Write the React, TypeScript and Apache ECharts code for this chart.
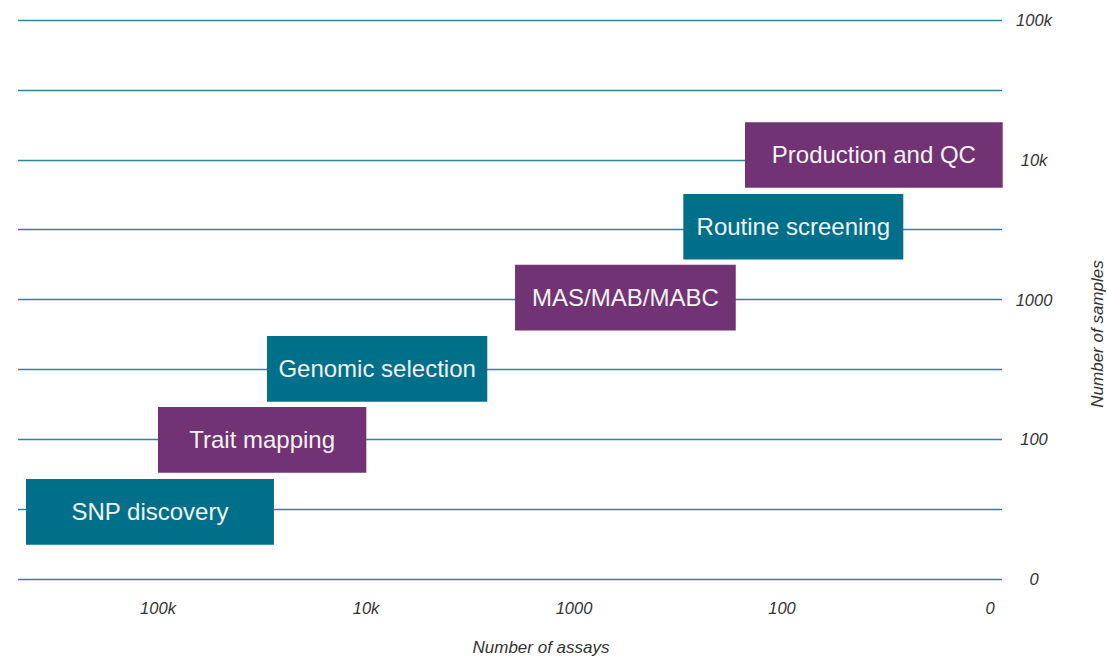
import React, { useEffect, useRef } from "react";
import * as echarts from "echarts";

// Stage names and their extents (x in half-decade units of assays, 0 at right; y in half-decade units of samples)
const stages = ["SNP discovery", "Trait mapping", "Genomic selection", "MAS/MAB/MABC", "Routine screening", "Production and QC"];
const assayFrom = [9.269, 8.0, 6.952, 4.567, 2.949, 2.356];
const assayTo = [6.885, 5.997, 4.834, 2.445, 0.834, -0.122];
const sampleLevel = [0.961, 1.991, 3.006, 4.027, 5.041, 6.068];
const boxHeight = 0.94;
const stageColorIdx = [0, 1, 0, 1, 0, 1];

const xTickValues = [0, 2, 4, 6, 8];
const xTickLabels = ["0", "100", "1000", "10k", "100k"];
const yTickValues = [0, 2, 4, 6, 8];
const yTickLabels = ["0", "100", "1000", "10k", "100k"];

const TEAL = "#00708a";
const PURPLE = "#713373";
const GRID = "#2f8597";
const FONT = "'Liberation Sans', Arial, sans-serif";

export default function App() {
  const ref = useRef<HTMLDivElement>(null);
  useEffect(() => {
    if (!ref.current) return;
    const chart = echarts.init(ref.current, undefined, { renderer: "svg" });
    const data = stages.map((s, i) => [assayFrom[i], assayTo[i], sampleLevel[i], stageColorIdx[i], s]);
    chart.setOption({
      animation: false,
      grid: { left: 18, right: 105, top: 20, bottom: 78, containLabel: false },
      xAxis: {
        type: "value",
        inverse: true,
        min: -0.115,
        max: 9.346,
        axisLine: { show: false },
        axisTick: { show: false },
        splitLine: { show: false },
        axisLabel: {
          customValues: xTickValues,
          formatter: (v: number) => {
            const i = xTickValues.indexOf(Math.round(v));
            return i >= 0 ? xTickLabels[i] : "";
          },
          color: "#333",
          fontStyle: "italic",
          fontSize: 16.5,
          fontFamily: FONT,
          margin: 20,
        },
      },
      yAxis: {
        type: "value",
        position: "right",
        min: 0,
        max: 8,
        interval: 1,
        axisLine: { show: false },
        axisTick: { show: false },
        splitLine: { show: true, lineStyle: { color: GRID, width: 1.3 } },
        axisLabel: {
          formatter: (v: number) => {
            const i = yTickValues.indexOf(Math.round(v));
            return i >= 0 ? yTickLabels[i] : "";
          },
          color: "#333",
          fontStyle: "italic",
          fontSize: 16.5,
          fontFamily: FONT,
          align: "center",
          margin: 32,
        },
      },
      graphic: [
        {
          type: "text",
          x: 541,
          y: 647,
          style: {
            text: "Number of assays",
            fill: "#333",
            font: `italic 17px ${FONT}`,
            align: "center",
            verticalAlign: "middle",
          },
        },
        {
          type: "text",
          x: 1097,
          y: 334,
          rotation: Math.PI / 2,
          style: {
            text: "Number of samples",
            fill: "#333",
            font: `italic 17px ${FONT}`,
            align: "center",
            verticalAlign: "middle",
          },
        },
      ],
      series: [
        {
          type: "custom",
          data,
          encode: { x: [0, 1], y: 2 },
          renderItem: (params: any, api: any) => {
            const x0 = api.value(0);
            const x1 = api.value(1);
            const yc = api.value(2);
            const ci = api.value(3);
            const label = stages[params.dataIndex];
            const p0 = api.coord([x0, yc + boxHeight / 2]);
            const p1 = api.coord([x1, yc - boxHeight / 2]);
            const left = Math.min(p0[0], p1[0]);
            const top = Math.min(p0[1], p1[1]);
            const w = Math.abs(p1[0] - p0[0]);
            const h = Math.abs(p1[1] - p0[1]);
            return {
              type: "group",
              children: [
                {
                  type: "rect",
                  shape: { x: left, y: top, width: w, height: h },
                  style: { fill: ci === 0 ? TEAL : PURPLE },
                },
                {
                  type: "text",
                  style: {
                    text: label,
                    x: left + w / 2,
                    y: top + h / 2,
                    align: "center",
                    verticalAlign: "middle",
                    fill: "#f2f2f2",
                    font: `24px ${FONT}`,
                  },
                },
              ],
            };
          },
        },
      ],
    });
    return () => chart.dispose();
  }, []);
  return <div ref={ref} style={{ position: "absolute", left: 0, top: 0, width: 1107, height: 657 }} />;
}
